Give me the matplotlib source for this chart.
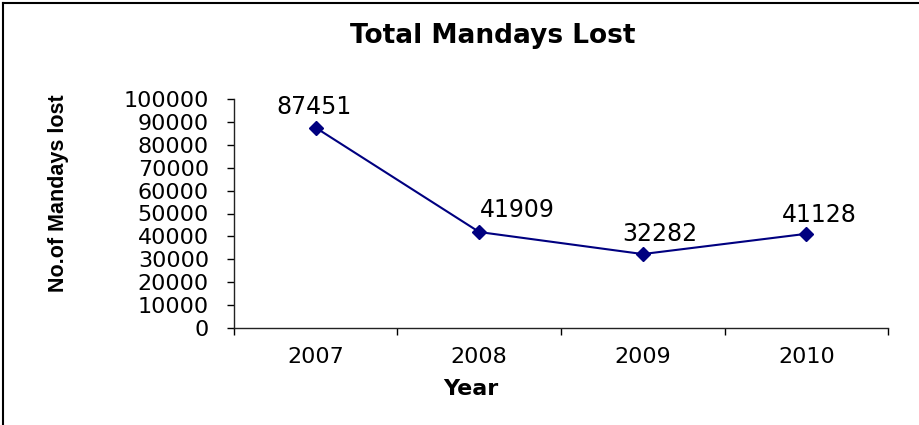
import matplotlib
matplotlib.use("Agg")
import matplotlib.pyplot as plt
from matplotlib.lines import Line2D
from matplotlib import font_manager

years = ["2007", "2008", "2009", "2010"]
mandays = [87451, 41909, 32282, 41128]
yticks = list(range(0, 100001, 10000))

title = "Total Mandays Lost"
xlabel = "Year"
ylabel = "No.of Mandays lost"

# label offsets in pixels (style)
label_offsets = [(-2, 21), (38, 22), (17, 20), (13, 19)]

names = {f.name for f in font_manager.fontManager.ttflist}
narrow = "Liberation Sans Narrow" if "Liberation Sans Narrow" in names else "Liberation Sans"

plt.rcParams['font.family'] = ['DejaVu Sans']

fig = plt.figure(figsize=(9.2, 4.25), dpi=100)
ax = fig.add_axes([234/920, 1-328/425, (888-234)/920, (328-99)/425])

x = [i + 0.5 for i in range(len(years))]
ax.plot(x, mandays, color="#000080", lw=1.5, marker="D", ms=7, mec="#000080", mfc="#000080")

for xi, v, (dx, dy) in zip(x, mandays, label_offsets):
    ax.annotate(f"{v}", (xi, v), xytext=(dx, dy), textcoords="offset pixels",
                ha="center", va="center", fontsize=17, color="black")

ax.set_xlim(0, len(years))
ax.set_ylim(0, 100000)
ax.set_yticks(yticks)
ax.set_yticklabels([str(t) for t in yticks], fontsize=16)
ax.set_xticks(range(len(years) + 1))
ax.set_xticklabels([])
ax.set_xticks(x, minor=True)
ax.set_xticklabels(years, minor=True, fontsize=16)
ax.tick_params(axis="x", which="minor", length=0, pad=14)
ax.tick_params(axis="x", which="major", length=5, width=1, direction="out")
ax.tick_params(axis="y", length=5, width=1, direction="out", pad=13)

for s in ["top", "right"]:
    ax.spines[s].set_visible(False)
for s in ["left", "bottom"]:
    ax.spines[s].set_linewidth(1)
    ax.spines[s].set_color("#222222")

ax.set_xlabel(xlabel, fontsize=16, fontweight="bold", family="DejaVu Sans", va="center")
ax.xaxis.set_label_coords((471-234)/654, (328-389)/229)
ax.set_ylabel(ylabel, fontsize=15.5, fontweight="bold", family=narrow, va="center")
ax.yaxis.set_label_coords((59-234)/654, (328-193)/229)

fig.text(493/920, 1-36/425, title, ha="center", va="center", fontsize=19,
         fontweight="bold", family="DejaVu Sans")

fig.add_artist(Line2D([3/920, 3/920], [0, 1-3/425], color="black", lw=1.5, transform=fig.transFigure))
fig.add_artist(Line2D([3/920, 1], [1-3/425, 1-3/425], color="black", lw=1.5, transform=fig.transFigure))

fig.savefig("out.png", dpi=100)
